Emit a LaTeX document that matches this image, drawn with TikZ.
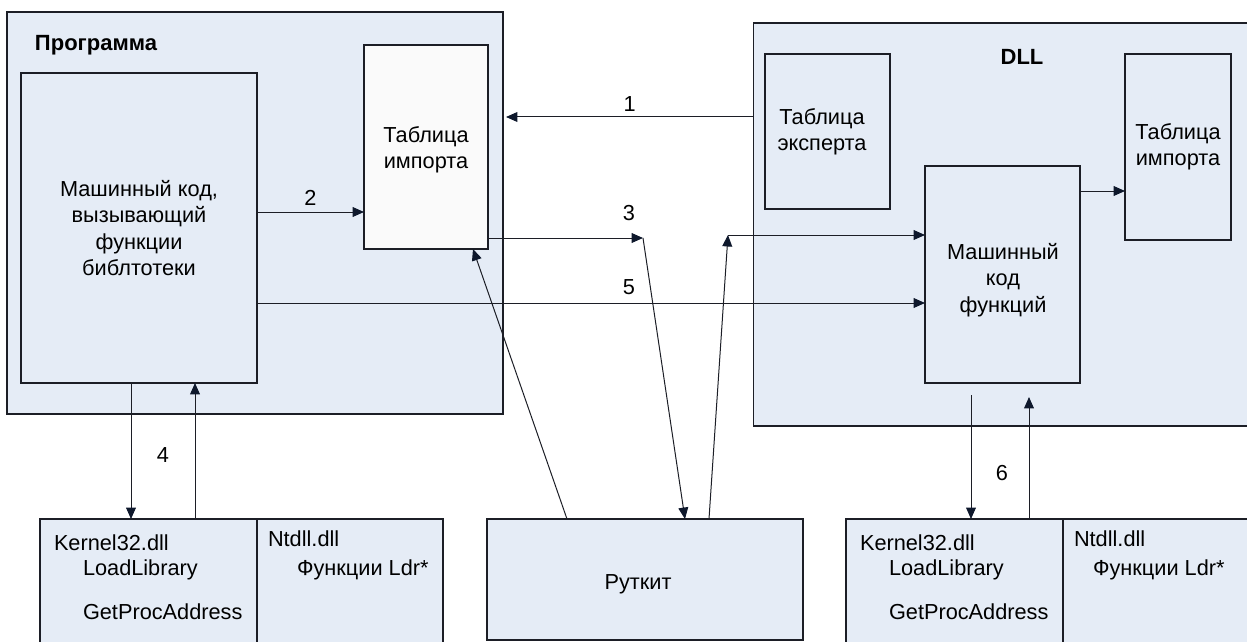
\documentclass[tikz,border=0pt]{standalone}
\usepackage{fontspec}
\setmainfont{Liberation Sans}
\usetikzlibrary{arrows.meta,calc}
\definecolor{panel}{RGB}{229,236,246}
\definecolor{paper}{RGB}{250,250,250}
\definecolor{ink}{RGB}{28,30,38}
\definecolor{tipink}{RGB}{14,24,44}
\begin{document}
\begin{tikzpicture}[x=0.75pt,y=-0.75pt,
  every node/.style={font=\fontsize{16.3}{19.9}\selectfont, inner sep=0pt, outer sep=0pt},
  box/.style={draw=ink, line width=0.8pt, fill=panel, rectangle},
  lbl/.style={align=center, text=black},
  item/.style={anchor=west, text=black},
  arr/.style={draw=ink, line width=0.75pt, -{Triangle[length=8.6pt,width=7.4pt,color=tipink]}},
  ln/.style={draw=ink, line width=0.75pt}]
\useasboundingbox (0,0) rectangle (1247,642);
\clip (0,0) rectangle (1247,642);

% program container and its parts
\node[box, minimum width=372pt, minimum height=301.5pt] (prog) at (255,213) {};
\node[font=\fontsize{16.5}{19.9}\selectfont\bfseries] (progt) at (96,45) {Программа};
\node[box, minimum width=177pt, minimum height=232.5pt] (mc) at (139,228) {};
\node[lbl] (mct) at (139,228) {Машинный код,\\вызывающий\\функции\\библтотеки};
\node[box, fill=paper, minimum width=93pt, minimum height=153pt] (imp) at (426,147) {};
\node[lbl] (impt) at (426,150) {Таблица\\импорта};

% DLL container and its parts
\node[box, minimum width=380pt, minimum height=302.25pt] (dll) at (1006.5,224.5) {};
\node[font=\fontsize{16.5}{19.9}\selectfont\bfseries] (dllt) at (1022,57) {DLL};
\node[box, minimum width=93.75pt, minimum height=116.25pt] (exp) at (827.5,131.5) {};
\node[lbl] (expt) at (822,132) {Таблица\\эксперта};
\node[box, minimum width=116.25pt, minimum height=162.75pt] (dmc) at (1002.5,274.5) {};
\node[lbl] (dmct) at (1003,280) {Машинный\\код\\функций};
\node[box, minimum width=79.5pt, minimum height=139.5pt] (dimp) at (1178,147) {};
\node[lbl] (dimpt) at (1178,147) {Таблица\\импорта};

% system libraries, left
\node[box, minimum width=162.75pt, minimum height=105.75pt] (kL) at (148.5,589.5) {};
\node[box, minimum width=139.5pt, minimum height=105.75pt] (nL) at (350,589.5) {};
\node[item] (kL1) at (54,543) {Kernel32.dll};
\node[item] (kL2) at (83,570) {LoadLibrary};
\node[item] (kL3) at (83,612) {GetProcAddress};
\node[item] (nL1) at (268,539) {Ntdll.dll};
\node[item] (nL2) at (297,570) {Функции Ldr*};

% rootkit
\node[box, minimum width=237pt, minimum height=90.75pt] (root) at (645,579.5) {};
\node[lbl] (roott) at (638,584) {Руткит};

% system libraries, right
\node[box, minimum width=162.75pt, minimum height=105.75pt] (kR) at (954.5,589.5) {};
\node[box, minimum width=147.75pt, minimum height=105.75pt] (nR) at (1161.5,589.5) {};
\node[item] (kR1) at (860,543) {Kernel32.dll};
\node[item] (kR2) at (889,570) {LoadLibrary};
\node[item] (kR3) at (889,612) {GetProcAddress};
\node[item] (nR1) at (1074,539) {Ntdll.dll};
\node[item] (nR2) at (1093,570) {Функции Ldr*};

% bend points of the rootkit paths
\coordinate (j3) at (643,238);
\coordinate (j4) at (728,235);
\coordinate (d6) at (971,395);
\coordinate (u6) at (1029,397);

% connectors
\draw[arr] (dll.west |- 0,117) -- (506,117) node[midway, above=4pt] (n1) {1};
\draw[arr] (mc.east |- 0,212) -- (imp.west |- 0,212) node[midway, above=5pt] (n2) {2};
\draw[arr] (imp.east |- j3) -- (j3);
\node (n3) at (629,213) {3};
\draw[arr] (j3) -- (root.north -| 685,0);
\draw[arr] (root.north -| 709,0) -- (j4);
\draw[arr] (j4) -- (dmc.west |- j4);
\draw[arr] (root.north -| 567,0) -- (imp.south -| 473,0);
\draw[arr] (mc.east |- 0,303) -- (dmc.west |- 0,303);
\node (n5) at (629,287) {5};
\draw[arr] (mc.south -| 131,0) -- (kL.north -| 131,0);
\draw[arr] (kL.north -| 195,0) -- (mc.south -| 195,0);
\node (n4) at (163,455) {4};
\draw[arr] (dmc.east |- 0,191) -- (dimp.west |- 0,191);
\draw[arr] (d6) -- (kR.north -| d6);
\draw[arr] (kR.north -| u6) -- (u6);
\node (n6) at (1002,473) {6};
\end{tikzpicture}
\end{document}
